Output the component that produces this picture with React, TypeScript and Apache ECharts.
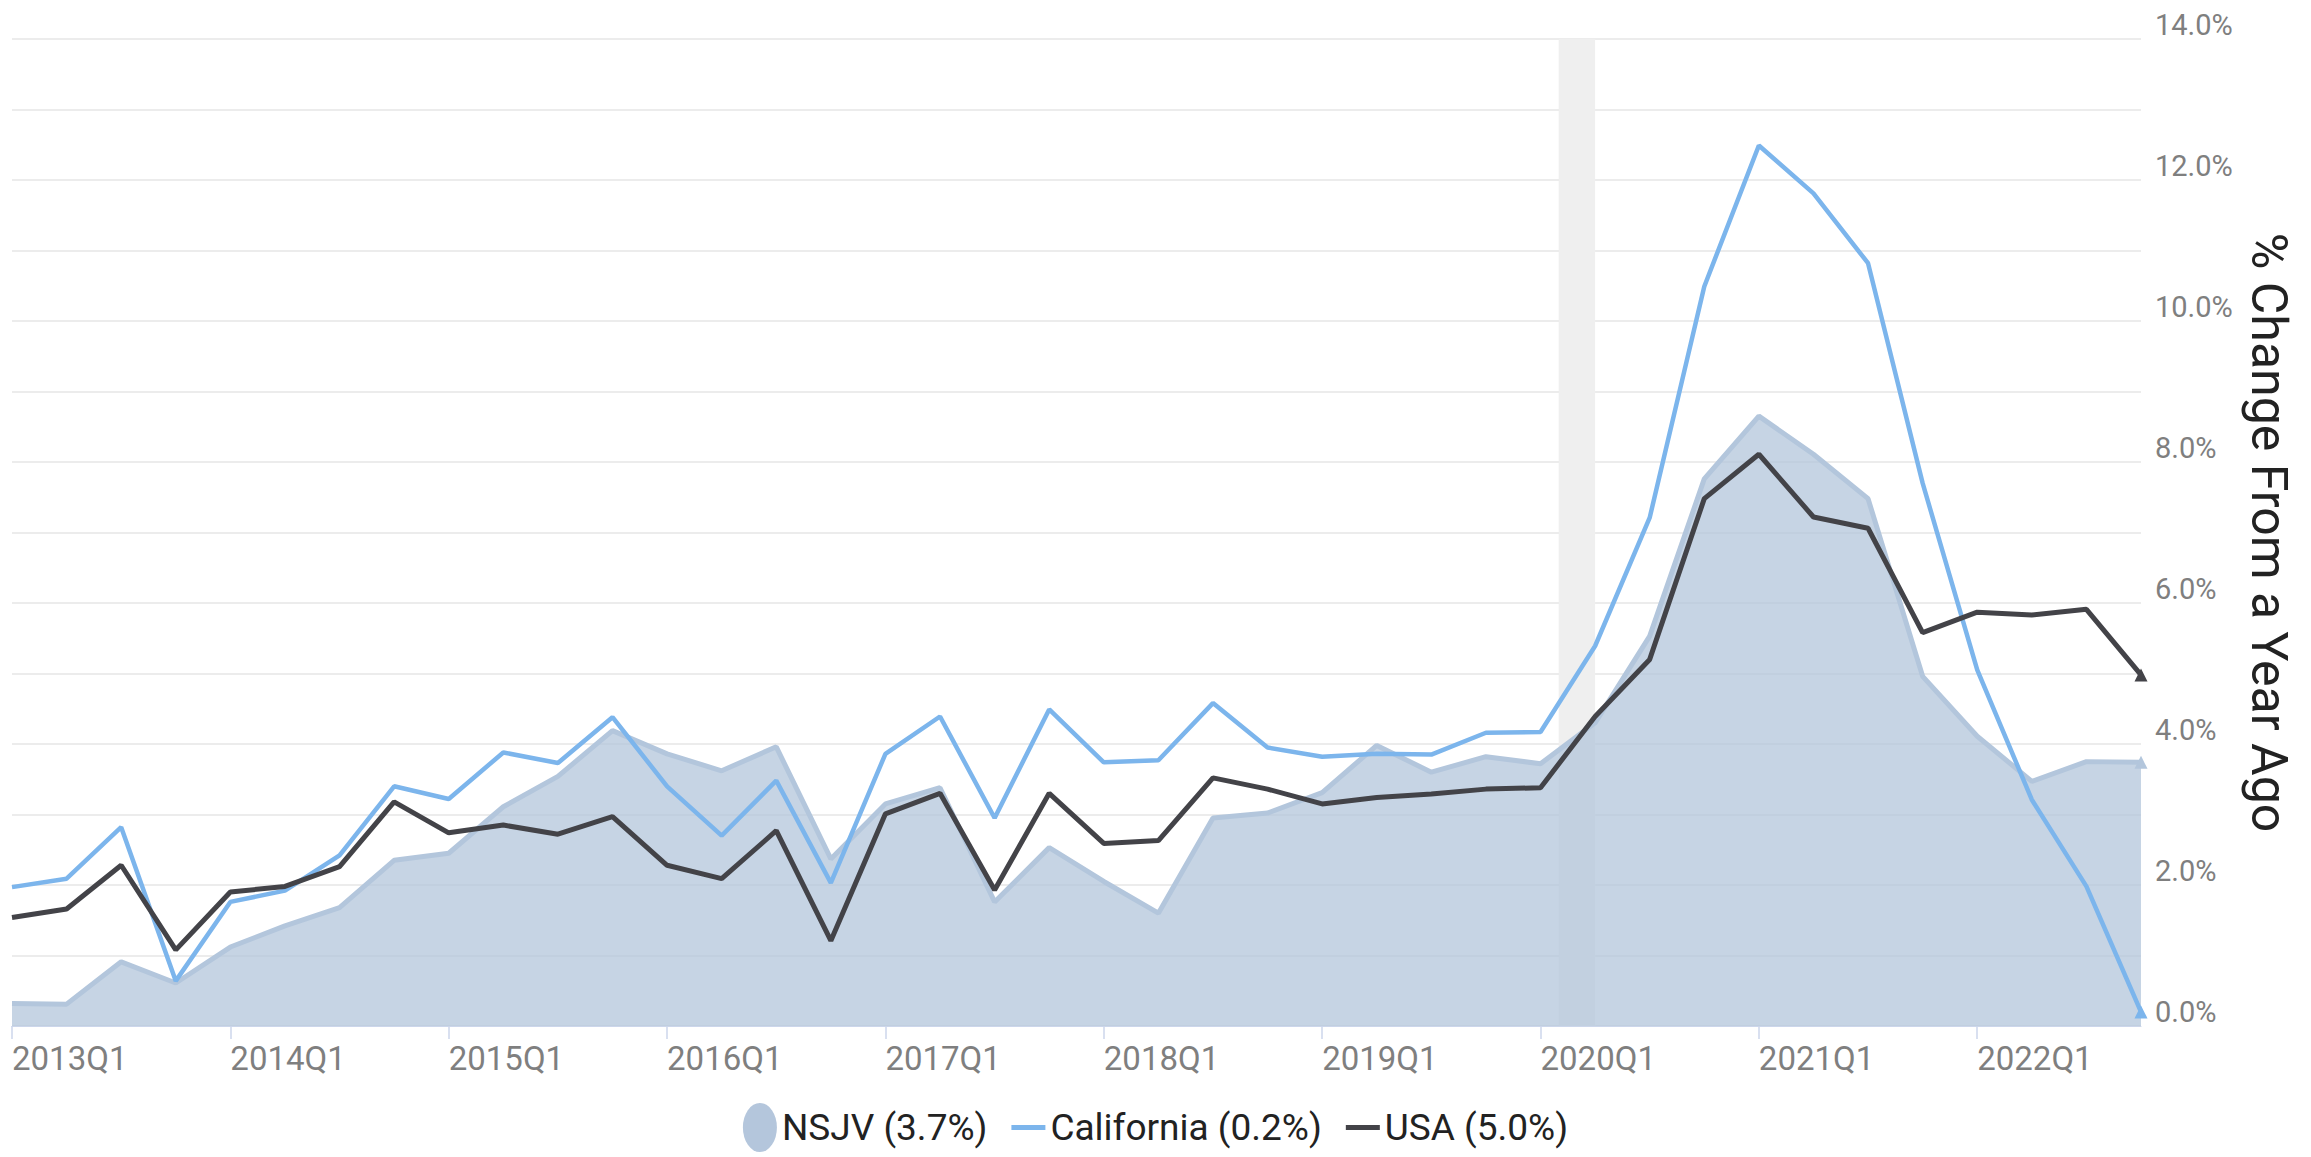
import React, { useEffect, useRef } from "react";
import * as echarts from "echarts";

const years = [2013, 2014, 2015, 2016, 2017, 2018, 2019, 2020, 2021, 2022];
const quarterNames = ["Q1", "Q2", "Q3", "Q4"];
const quarters: string[] = [];
years.forEach((y) => quarterNames.forEach((q) => quarters.push(`${y}${q}`)));

const nsjv = [0.32, 0.31, 0.91, 0.61, 1.12, 1.42, 1.68, 2.35, 2.45, 3.11, 3.54, 4.19, 3.86, 3.62, 3.96, 2.37, 3.15, 3.38, 1.76, 2.53, 2.05, 1.6, 2.95, 3.02, 3.31, 3.98, 3.6, 3.82, 3.72, 4.3, 5.53, 7.76, 8.65, 8.11, 7.48, 4.96, 4.11, 3.47, 3.75, 3.74];
const california = [1.97, 2.09, 2.82, 0.64, 1.76, 1.92, 2.42, 3.4, 3.22, 3.88, 3.73, 4.38, 3.4, 2.7, 3.48, 2.03, 3.86, 4.39, 2.95, 4.49, 3.74, 3.77, 4.58, 3.95, 3.82, 3.86, 3.85, 4.16, 4.17, 5.39, 7.21, 10.49, 12.49, 11.81, 10.82, 7.7, 5.05, 3.21, 1.98, 0.2];
const usa = [1.54, 1.66, 2.28, 1.08, 1.9, 1.98, 2.26, 3.18, 2.74, 2.85, 2.72, 2.97, 2.28, 2.09, 2.77, 1.21, 3.01, 3.3, 1.93, 3.3, 2.59, 2.63, 3.52, 3.36, 3.15, 3.24, 3.29, 3.36, 3.38, 4.39, 5.2, 7.48, 8.11, 7.22, 7.06, 5.58, 5.87, 5.83, 5.91, 4.98];

const seriesNames = ["NSJV (3.7%)", "California (0.2%)", "USA (5.0%)"];
const recession = ["2020-02", "2020-04"];
const yTicks = [0, 14];
const axisName = "% Change From a Year Ago";

const FONT = '"Roboto", sans-serif';

const quarterToX = (q: string) => Number(q.slice(0, 4)) + (Number(q.slice(5)) - 1) / 4;
const monthToX = (m: string) => Number(m.slice(0, 4)) + (Number(m.slice(5)) - 1) / 12;

const toData = (vals: number[]) =>
  vals.map((v, i) =>
    i === vals.length - 1
      ? { value: [quarterToX(quarters[i]), v], symbol: "triangle", symbolSize: 13 }
      : { value: [quarterToX(quarters[i]), v], symbol: "none" }
  );

const ellipseIcon = "path://M17,0 A17,24.5 0 1 1 17,49 A17,24.5 0 1 1 17,0 Z";
const barIcon = "path://M0,0 H34 V5 H0 Z";

export default function App() {
  const ref = useRef<HTMLDivElement>(null);
  useEffect(() => {
    if (!ref.current) return;
    const chart = echarts.init(ref.current, undefined, { renderer: "svg" });
    const xMin = quarterToX(quarters[0]);
    const xMax = quarterToX(quarters[quarters.length - 1]);
    const option: any = {
      animation: false,
      backgroundColor: "#ffffff",
      grid: { left: 12, right: 170, top: 39, bottom: 131, containLabel: false },
      xAxis: {
        type: "value",
        min: xMin,
        max: xMax,
        interval: 1,
        axisLine: { show: true, lineStyle: { color: "#ccd6eb", width: 1 } },
        axisTick: { show: true, length: 13, lineStyle: { color: "#ccd6eb", width: 1.5 }, customValues: years },
        axisLabel: {
          customValues: years,
          formatter: (v: number) => `${v}Q1`,
          align: "left",
          margin: 16,
          fontSize: 33,
          color: "#7f7f7f",
          fontFamily: FONT,
        },
        splitLine: { show: false },
      },
      yAxis: {
        type: "value",
        position: "right",
        min: yTicks[0],
        max: yTicks[1],
        interval: 1,
        splitLine: { show: true, lineStyle: { color: "#ececec", width: 2 } },
        axisLine: { show: false },
        axisTick: { show: false },
        axisLabel: {
          formatter: (v: number) => (v % 2 === 0 ? `${v.toFixed(1)}%` : ""),
          fontSize: 29,
          color: "#7f7f7f",
          verticalAlign: "bottom",
          align: "left",
          margin: 14,
          fontFamily: FONT,
        },
        name: axisName,
        nameLocation: "middle",
        nameRotate: -90,
        nameGap: 79,
        nameTextStyle: { fontSize: 50, color: "#222222", fontFamily: "Roboto" },
      },
      legend: {
        left: "center",
        top: 1098,
        itemWidth: 34,
        itemHeight: 49,
        itemGap: 24,
        symbolKeepAspect: true,
        textStyle: { fontSize: 37, color: "#222222", fontFamily: FONT, padding: [18, 0, 0, 0] },
        data: [
          { name: seriesNames[0], icon: ellipseIcon, itemStyle: { color: "#b4c6dc" } },
          { name: seriesNames[1], icon: barIcon, itemStyle: { color: "#7cb5ec" } },
          { name: seriesNames[2], icon: barIcon, itemStyle: { color: "#434348" } },
        ],
      },
      series: [
        {
          type: "line",
          name: "recession",
          data: [],
          z: 1,
          silent: true,
          markArea: {
            silent: true,
            itemStyle: { color: "#efefef" },
            data: [[{ xAxis: monthToX(recession[0]) }, { xAxis: monthToX(recession[1]) }]],
          },
        },
        {
          type: "line",
          name: seriesNames[0],
          z: 2,
          data: toData(nsjv),
          showSymbol: true,
          lineStyle: { color: "#b3c6dc", width: 5 },
          itemStyle: { color: "#b3c6dc" },
          areaStyle: { color: "#b3c5db", opacity: 0.75 },
        },
        {
          type: "line",
          name: seriesNames[1],
          z: 3,
          data: toData(california),
          showSymbol: true,
          lineStyle: { color: "#7cb5ec", width: 4.5 },
          itemStyle: { color: "#7cb5ec" },
        },
        {
          type: "line",
          name: seriesNames[2],
          z: 4,
          data: toData(usa),
          showSymbol: true,
          lineStyle: { color: "#434348", width: 5 },
          itemStyle: { color: "#434348" },
        },
      ],
    };
    chart.setOption(option);
    return () => chart.dispose();
  }, []);
  return (
    <div
      ref={ref}
      style={{ position: "fixed", left: 0, top: 0, width: 2311, height: 1157, background: "#fff" }}
    />
  );
}
